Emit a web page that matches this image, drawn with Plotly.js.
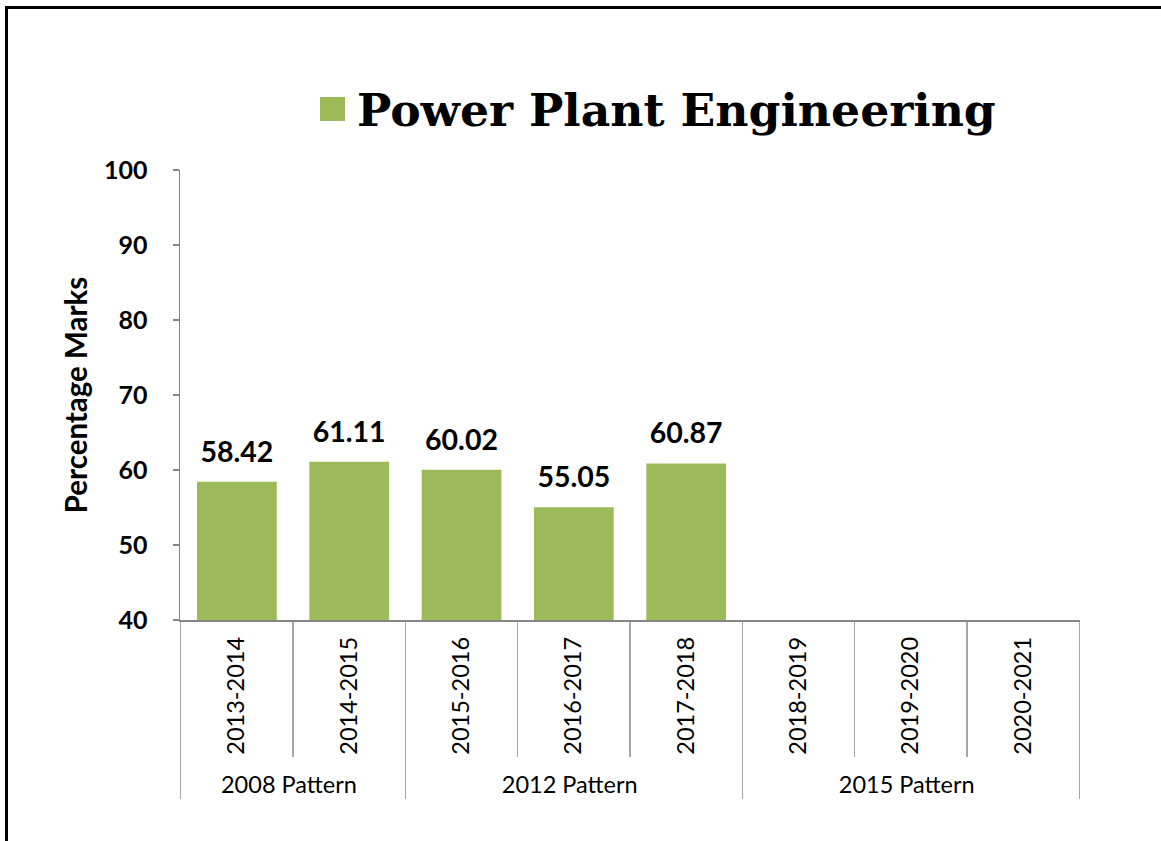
<!DOCTYPE html>
<html>
<head>
<meta charset="utf-8">
<script src="https://cdn.plot.ly/plotly-3.0.1.min.js"></script>
<style>
html,body{margin:0;padding:0;background:#fff;}
#chart{position:absolute;left:0;top:0;width:1161px;height:841px;}
#frame{position:absolute;left:5px;top:6px;width:1156px;height:835px;border-top:3px solid #000;border-left:3px solid #000;box-sizing:border-box;pointer-events:none;}
</style>
</head>
<body>
<div id="chart"></div>
<div id="frame"></div>
<script>
var seriesName = 'Power Plant Engineering';
var patterns = ['2008 Pattern','2008 Pattern','2012 Pattern','2012 Pattern','2012 Pattern','2015 Pattern','2015 Pattern','2015 Pattern'];
var years = ['2013-2014','2014-2015','2015-2016','2016-2017','2017-2018','2018-2019','2019-2020','2020-2021'];
var marks = [58.42, 61.11, 60.02, 55.05, 60.87, null, null, null];
var yTicks = [40, 50, 60, 70, 80, 90, 100];

var green = '#9BBB59';
var labelFont = 'Lato, "Open Sans", sans-serif';

var labels = marks.map(function(v){ return v === null ? '' : v.toFixed(2); });

var bars = {
  type: 'bar',
  x: [patterns, years],
  y: marks,
  name: seriesName,
  marker: {color: green},
  hoverinfo: 'y',
  showlegend: false
};

var valueLabels = {
  type: 'scatter',
  mode: 'markers+text',
  x: [patterns, years],
  y: marks,
  text: labels,
  textposition: 'top center',
  textfont: {family: labelFont, size: 28.5, color: '#000', weight: 'bold'},
  marker: {size: 19, opacity: 0},
  hoverinfo: 'skip',
  showlegend: false,
  cliponaxis: false
};

var layout = {
  width: 1161,
  height: 841,
  margin: {l: 180, r: 81, t: 170, b: 221},
  paper_bgcolor: '#fff',
  plot_bgcolor: '#fff',
  bargap: 0.29,
  showlegend: false,
  xaxis: {
    type: 'multicategory',
    showline: true,
    linecolor: '#868686',
    linewidth: 1.5,
    showgrid: false,
    zeroline: false,
    ticks: 'outside',
    tickson: 'boundaries',
    ticklen: 135,
    tickwidth: 1.5,
    tickcolor: '#A6A6A6',
    ticklabelstandoff: 6,
    tickangle: -90,
    tickfont: {family: labelFont, size: 23.5, color: '#000'},
    showdividers: true,
    dividercolor: '#A6A6A6',
    dividerwidth: 1.5,
    automargin: false
  },
  yaxis: {
    range: [40, 100],
    tickvals: yTicks,
    ticktext: yTicks.map(String),
    showline: true,
    linecolor: '#868686',
    linewidth: 1.5,
    showgrid: false,
    zeroline: false,
    ticks: 'outside',
    ticklen: 6,
    tickwidth: 1.5,
    tickcolor: '#868686',
    ticklabelstandoff: 20,
    tickfont: {family: labelFont, size: 25, color: '#000', weight: 'bold'},
    title: {text: 'Percentage Marks', standoff: 7, font: {family: labelFont, size: 29.5, color: '#000', weight: 'bold'}},
    automargin: false
  },
  shapes: [
    {type: 'rect', xref: 'paper', yref: 'paper',
     x0: (320-180)/900, x1: (345-180)/900, y0: (620-121)/450, y1: (620-97)/450,
     fillcolor: green, line: {width: 0}}
  ],
  annotations: [
    {xref: 'paper', yref: 'paper', x: (355-180)/900, y: (620-110)/450,
     xanchor: 'left', yanchor: 'middle', showarrow: false,
     text: '<b>' + seriesName + '</b>',
     font: {family: '"DejaVu Serif", serif', size: 45.7, color: '#000'}}
  ]
};

Plotly.newPlot('chart', [bars, valueLabels], layout, {displayModeBar: false, staticPlot: true});
</script>
</body>
</html>
